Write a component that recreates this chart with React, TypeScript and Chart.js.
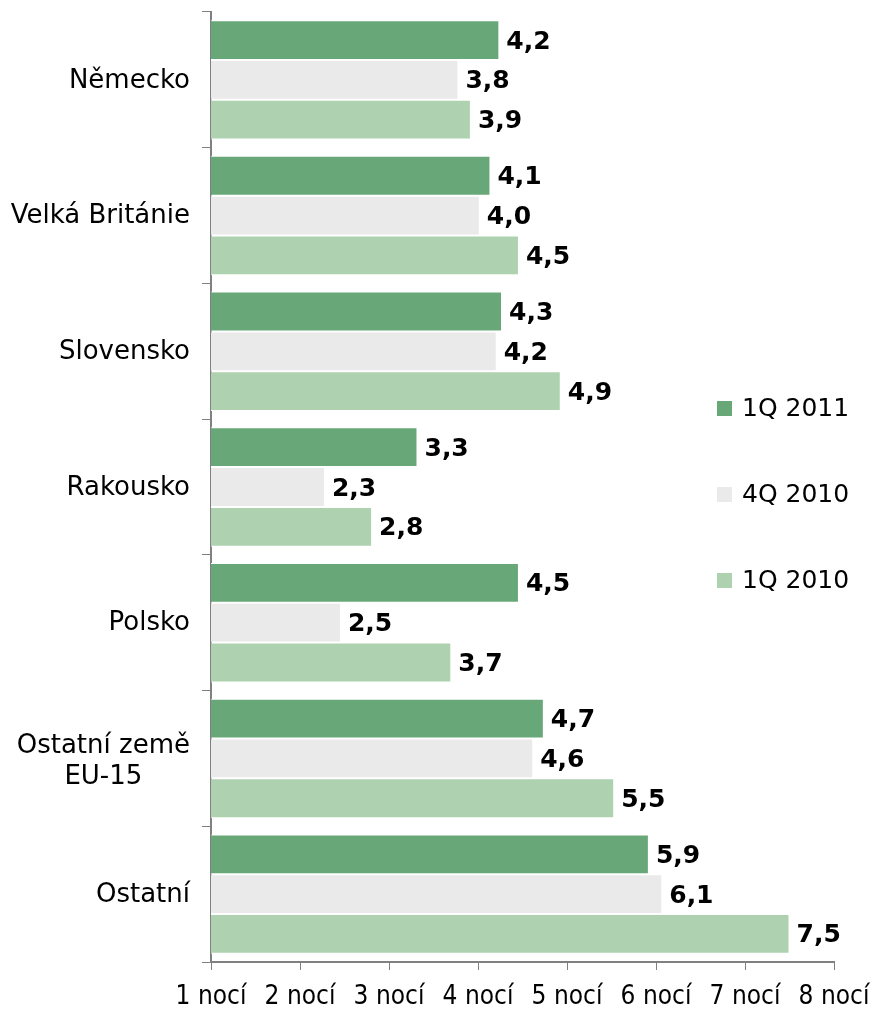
import React, { useEffect, useRef } from 'react';
import { Chart, registerables } from 'chart.js';

Chart.register(...registerables);

const categories: string[][] = [
  ['Německo'],
  ['Velká Británie'],
  ['Slovensko'],
  ['Rakousko'],
  ['Polsko'],
  ['Ostatní země', 'EU-15'],
  ['Ostatní'],
];
const seriesNames = ['1Q 2011', '4Q 2010', '1Q 2010'];
const q1_2011 = [4.24, 4.14, 4.27, 3.32, 4.46, 4.74, 5.92];
const q4_2010 = [3.78, 4.02, 4.21, 2.28, 2.46, 4.62, 6.07];
const q1_2010 = [3.92, 4.46, 4.93, 2.81, 3.7, 5.53, 7.5];
const xMin = 1;
const xMax = 8;
const tickSuffix = ' nocí';
const colors = ['#68A878', '#EAEAEA', '#AED2B0'];

const FONT = 'DejaVu Sans';
const TICK_FONT = '"DejaVu Sans Condensed", "DejaVu Sans"';

const labelsPlugin = {
  id: 'customLabels',
  afterDatasetsDraw(chart: any) {
    const ctx = chart.ctx;
    ctx.save();
    ctx.font = `bold 25px "${FONT}"`;
    ctx.fillStyle = '#000';
    ctx.textAlign = 'left';
    ctx.textBaseline = 'middle';
    chart.data.datasets.forEach((ds: any, di: number) => {
      const meta = chart.getDatasetMeta(di);
      meta.data.forEach((el: any, i: number) => {
        const v = ds.data[i] as number;
        const txt = v.toFixed(1).replace('.', ',');
        ctx.fillText(txt, el.x + 7, el.y + 2);
      });
    });
    ctx.restore();
  },
  afterDraw(chart: any) {
    const ctx = chart.ctx;
    const area = chart.chartArea;
    const yScale = chart.scales.y;
    ctx.save();
    // category labels
    ctx.font = `26px "${FONT}"`;
    ctx.fillStyle = '#000';
    ctx.textAlign = 'center';
    ctx.textBaseline = 'middle';
    const right = area.left - 21;
    const lh = 31.5;
    categories.forEach((lines, i) => {
      const cy = yScale.getPixelForValue(i) + (lines.length > 1 ? 3.5 : 1);
      const w = Math.max(...lines.map((l) => ctx.measureText(l).width));
      const cx = right - w / 2;
      lines.forEach((l, j) => {
        ctx.fillText(l, cx, cy + (j - (lines.length - 1) / 2) * lh);
      });
    });
    // legend
    ctx.font = `25px "${FONT}"`;
    const lx = area.left + 506;
    const ly0 = area.top + 396.5;
    const gap = 86;
    ctx.textAlign = 'left';
    seriesNames.forEach((name, i) => {
      const cy = ly0 + i * gap;
      ctx.fillStyle = colors[i];
      ctx.fillRect(lx, cy - 7.5, 15, 15);
      ctx.fillStyle = '#000';
      ctx.fillText(name, lx + 25, cy + 1);
    });
    ctx.restore();
  },
};

export default function App() {
  const ref = useRef<HTMLCanvasElement>(null);
  useEffect(() => {
    if (!ref.current) return;
    Chart.defaults.font.family = FONT;
    const chart = new Chart(ref.current, {
      type: 'bar',
      data: {
        labels: categories.map((c) => c.join(' ')),
        datasets: [q1_2011, q4_2010, q1_2010].map((d, i) => ({
          label: seriesNames[i],
          data: d,
          backgroundColor: colors[i],
          borderColor: '#ffffff',
          borderWidth: 1,
          categoryPercentage: 0.88,
          barPercentage: 1,
        })),
      },
      options: {
        indexAxis: 'y',
        animation: false,
        responsive: false,
        devicePixelRatio: 1,
        layout: { padding: { top: 12, left: 0, right: 38, bottom: 0 } },
        plugins: {
          legend: { display: false },
          tooltip: { enabled: false },
        },
        scales: {
          x: {
            type: 'linear',
            min: xMin,
            max: xMax,
            ticks: {
              stepSize: 1,
              color: '#000',
              font: { size: 26, family: TICK_FONT },
              padding: 12,
              maxRotation: 0,
              autoSkip: false,
              callback: (v: any) => `${v}${tickSuffix}`,
            },
            grid: { drawOnChartArea: false, drawTicks: true, tickLength: 8, color: '#808080' },
            border: { color: '#808080', width: 2 },
            afterFit: (s: any) => {
              s.height = 49;
              s.paddingLeft = 0;
              s.paddingRight = 0;
            },
          },
          y: {
            type: 'category',
            offset: true,
            ticks: { display: false },
            grid: { offset: true, drawOnChartArea: false, drawTicks: true, tickLength: 9, color: '#808080' },
            border: { color: '#808080', width: 2 },
            afterFit: (s: any) => {
              s.width = 211;
            },
          },
        },
      },
      plugins: [labelsPlugin],
    });
    return () => chart.destroy();
  }, []);
  return (
    <div style={{ position: 'absolute', left: 0, top: 0, width: 872, height: 1011, background: '#fff' }}>
      <canvas ref={ref} width={872} height={1011} />
    </div>
  );
}
